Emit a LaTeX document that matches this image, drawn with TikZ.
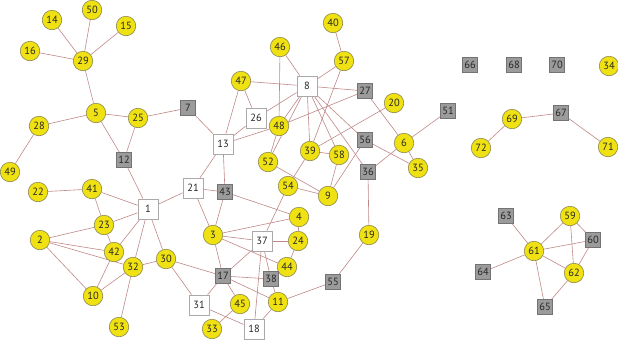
\documentclass[tikz,border=0pt]{standalone}
\usepackage{fontspec}
\setmainfont{PT Sans}
\usetikzlibrary{backgrounds}
\definecolor{nodeyellow}{RGB}{240,226,18}
\definecolor{yellowrim}{RGB}{140,135,80}
\definecolor{boxgray}{RGB}{155,155,155}
\definecolor{boxrim}{RGB}{115,115,115}
\definecolor{whiterim}{RGB}{170,170,170}
\definecolor{linkcol}{RGB}{192,135,135}
\tikzset{
  lbl/.style={font=\fontsize{10.5}{10.5}\selectfont, text=black!85, inner sep=0pt},
  yel/.style={lbl, circle, fill=nodeyellow, draw=yellowrim, line width=0.6bp, minimum size=19.5bp},
  wbox/.style={lbl, rectangle, fill=white, draw=whiterim, line width=0.8bp, minimum size=20bp},
  gbox/.style={lbl, rectangle, fill=boxgray, draw=boxrim, line width=0.6bp, minimum size=15bp},
  link/.style={draw=linkcol, line width=0.6bp}
}
\begin{document}
\begin{tikzpicture}[x=1bp, y=-1bp]
\path[use as bounding box] (0,0) rectangle (618,340);

% yellow circular nodes
\foreach \n/\px/\py in {
  14/52/20, 50/92/10, 15/126/26, 16/30/51, 29/83/61, 5/96/113, 25/138/118,
  28/39/126, 49/10/172, 22/38/192, 41/92/189, 23/104/225, 2/40/240,
  42/114/252, 32/133/267, 30/166/259, 10/93/296, 53/119/327, 33/212/329,
  47/241/81, 46/280/47, 40/333/23, 57/344/61, 20/394/103, 48/279/126,
  52/268/162, 39/310/151, 58/339/155, 6/404/143, 35/418/168, 54/288/186,
  9/328/196, 4/299/217, 24/298/241, 3/213/235, 44/287/267, 45/240/304,
  11/278/302, 19/369/235, 34/609/66, 69/512/119, 72/481/148, 71/608/147,
  59/570/216, 61/534/251, 62/574/273}
  \node[yel] (n\n) at (\px,\py) {\n};

% white square nodes
\foreach \n/\px/\py in {
  1/148/209, 21/193/188, 13/223/144, 26/256/118, 8/307/86, 37/262/241,
  31/199/305, 18/254/329}
  \node[wbox] (n\n) at (\px,\py) {\n};

% grey square nodes
\foreach \n/\px/\py in {
  7/188/108, 12/124/160, 43/225/192, 27/365/91, 56/365/140, 36/368/172,
  51/448/111, 17/223/276, 38/271/279, 55/333/282, 66/470/65, 68/514/65,
  70/557/65, 67/561/113, 63/506/216, 60/593/240, 64/483/272, 65/545/307}
  \node[gbox] (n\n) at (\px,\py) {\n};

% connectors
\begin{pgfonlayer}{background}
\foreach \a/\b in {
  29/14, 29/50, 29/15, 29/16, 29/5, 5/28, 5/25, 5/12, 25/12, 25/7, 28/49,
  7/13, 12/1, 40/57, 57/8, 57/39, 46/8, 46/48, 47/8, 47/26, 47/13,
  8/27, 8/26, 8/48, 8/52, 8/39, 8/58, 8/36, 8/56, 27/48, 27/6, 20/39,
  13/26, 13/48, 13/21, 13/43, 21/43, 21/1, 21/3, 43/3, 43/4,
  39/58, 39/54, 48/52, 52/9, 54/9, 54/37, 58/9, 56/9, 56/35,
  6/51, 6/36, 6/35, 36/19, 19/55, 55/11,
  3/4, 3/37, 3/44, 3/17, 4/24, 24/37, 24/44,
  37/17, 37/38, 37/18, 17/38, 17/11, 17/45, 17/31, 17/30,
  38/11, 11/18, 31/18, 31/30, 33/45,
  1/41, 1/23, 1/42, 1/32, 1/30, 22/41, 41/23, 23/42, 23/2,
  2/42, 2/32, 2/10, 10/42, 10/32, 32/30, 32/53,
  69/67, 69/72, 67/71,
  61/63, 61/59, 61/60, 61/62, 61/64, 61/65, 59/62, 59/60, 62/65, 62/60}
  \draw[link] (n\a) -- (n\b);
\end{pgfonlayer}
\end{tikzpicture}
\end{document}
